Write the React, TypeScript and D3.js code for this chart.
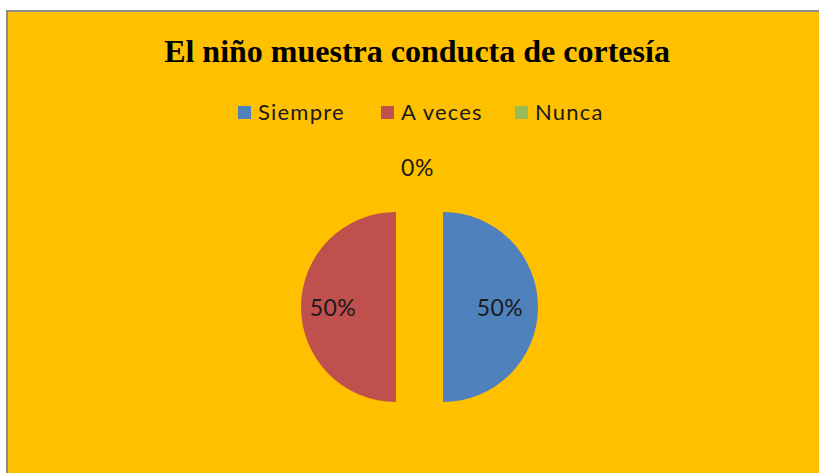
import React, { useEffect, useRef } from "react";
import * as d3 from "d3";

const categories = ["Siempre", "A veces", "Nunca"];
const values = [50, 50, 0];
const labels = ["50%", "50%", "0%"];
const colors = ["#4F81BD", "#C0504D", "#9BBB59"];

const App = () => {
  const ref = useRef<SVGSVGElement>(null);

  useEffect(() => {
    const width = 819;
    const height = 473;
    const svg = d3.select(ref.current);
    svg.selectAll("*").remove();
    svg.attr("width", width).attr("height", height);

    svg.append("rect").attr("width", width).attr("height", height).attr("fill", "#fff");
    svg
      .append("rect")
      .attr("x", 7)
      .attr("y", 11)
      .attr("width", width + 20)
      .attr("height", height + 20)
      .attr("fill", "#FFC000")
      .attr("stroke", "#8c8c8c")
      .attr("stroke-width", 2);

    svg
      .append("text")
      .attr("x", 417)
      .attr("y", 62)
      .attr("text-anchor", "middle")
      .style("font-family", "'Liberation Serif', 'Times New Roman', serif")
      .style("font-weight", "bold")
      .style("font-size", "32px")
      .attr("fill", "#000")
      .text("El niño muestra conducta de cortesía");

    // legend
    const legendX = [238, 381, 515];
    const legend = svg
      .selectAll(".legend")
      .data(categories)
      .enter()
      .append("g")
      .attr("class", "legend")
      .attr("transform", (d, i) => "translate(" + legendX[i] + ",106)");
    legend
      .append("rect")
      .attr("width", 13)
      .attr("height", 13)
      .attr("fill", (d, i) => colors[i]);
    legend
      .append("text")
      .attr("x", 20)
      .attr("y", 14)
      .style("font-family", "Lato, 'Open Sans', sans-serif")
      .style("font-size", "22px")
      .style("letter-spacing", "1.2px")
      .attr("fill", "#1a1a1a")
      .text((d) => d);

    // pie
    const cx = 419.5;
    const cy = 307;
    const r = 95;
    const explode = 23.5;

    const pie = d3
      .pie<number>()
      .sort(null)
      .value((d) => d)
      .startAngle(0)
      .endAngle(2 * Math.PI);
    const arcs = pie(values);
    const arc = d3.arc<d3.PieArcDatum<number>>().innerRadius(0).outerRadius(r);
    const labelArc = d3.arc<d3.PieArcDatum<number>>().innerRadius(60).outerRadius(60);

    const g = svg.append("g").attr("transform", "translate(" + cx + "," + cy + ")");

    const shift = (d: d3.PieArcDatum<number>, k: number) => {
      const a = (d.startAngle + d.endAngle) / 2;
      return [Math.sin(a) * k, -Math.cos(a) * k];
    };

    const slices = g
      .selectAll(".slice")
      .data(arcs.filter((d) => d.value > 0))
      .enter()
      .append("g")
      .attr("class", "slice")
      .attr("transform", (d) => {
        const [dx, dy] = shift(d, explode);
        return "translate(" + dx + "," + dy + ")";
      });
    slices
      .append("path")
      .attr("d", arc)
      .attr("fill", (d) => colors[d.index]);
    slices
      .append("text")
      .attr("transform", (d) => {
        const [lx, ly] = labelArc.centroid(d);
        return "translate(" + (lx - 3) + "," + (ly + 1) + ")";
      })
      .attr("text-anchor", "middle")
      .attr("dy", "0.35em")
      .style("font-family", "Lato, 'Open Sans', sans-serif")
      .style("font-size", "23px")
      .style("letter-spacing", "0.5px")
      .attr("fill", "#1a1a1a")
      .text((d) => labels[d.index]);

    // zero slice label, outside at top
    g.selectAll(".zero")
      .data(arcs.filter((d) => d.value === 0))
      .enter()
      .append("text")
      .attr("class", "zero")
      .attr("transform", (d) => {
        const [dx, dy] = shift(d, 139);
        return "translate(" + (dx - 2) + "," + dy + ")";
      })
      .attr("text-anchor", "middle")
      .attr("dy", "0.35em")
      .style("font-family", "Lato, 'Open Sans', sans-serif")
      .style("font-size", "23px")
      .style("letter-spacing", "0.5px")
      .attr("fill", "#1a1a1a")
      .text((d) => labels[d.index]);
  }, []);

  return <svg ref={ref} style={{ position: "absolute", left: 0, top: 0 }}></svg>;
};

export default App;
